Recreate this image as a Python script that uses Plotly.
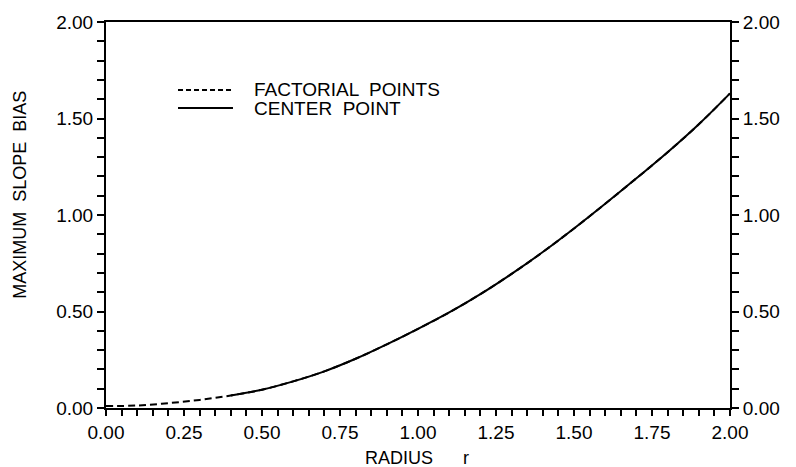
import plotly.graph_objects as go

# Data
radius = [0.0, 0.1, 0.2, 0.3, 0.4, 0.5, 0.6, 0.7, 0.8, 0.9, 1.0,
          1.1, 1.2, 1.3, 1.4, 1.5, 1.6, 1.7, 1.8, 1.9, 2.0]
factorial_bias = [0.010, 0.013, 0.025, 0.042, 0.065, 0.095, 0.138, 0.190, 0.255, 0.330, 0.410,
                  0.495, 0.590, 0.695, 0.808, 0.930, 1.058, 1.190, 1.325, 1.470, 1.630]
center_radius = radius[4:]
center_bias = factorial_bias[4:]

x_ticks = [0.0, 0.25, 0.5, 0.75, 1.0, 1.25, 1.5, 1.75, 2.0]
y_ticks = [0.0, 0.5, 1.0, 1.5, 2.0]
legend_names = ["FACTORIAL  POINTS", "CENTER  POINT"]

FONT = "Liberation Sans, Arial, sans-serif"

fig = go.Figure()
fig.add_trace(go.Scatter(x=radius, y=factorial_bias, mode="lines", name=legend_names[0],
                         line=dict(color="black", width=2, dash="7px,4px"), line_shape="spline",
                         showlegend=False))
fig.add_trace(go.Scatter(x=center_radius, y=center_bias, mode="lines", name=legend_names[1],
                         line=dict(color="black", width=2), line_shape="spline",
                         showlegend=False))
# invisible trace to activate right axis
fig.add_trace(go.Scatter(x=[0, 2], y=[0, 2], yaxis="y2", mode="lines",
                         line=dict(color="rgba(0,0,0,0)"), showlegend=False, hoverinfo="skip"))

# hand-drawn style legend
leg_x0, leg_x1, leg_tx = 0.1154, 0.2035, 0.234
leg_y = [0.824, 0.777]
fig.add_shape(type="line", xref="paper", yref="paper", x0=leg_x0, x1=leg_x1, y0=leg_y[0], y1=leg_y[0],
              line=dict(color="black", width=2, dash="5px,3px"))
fig.add_shape(type="line", xref="paper", yref="paper", x0=leg_x0, x1=leg_x1, y0=leg_y[1], y1=leg_y[1],
              line=dict(color="black", width=2))
for name, yy in zip(legend_names, leg_y):
    fig.add_annotation(text=name, xref="paper", yref="paper", x=leg_tx, y=yy,
                       xanchor="left", yanchor="middle", showarrow=False,
                       font=dict(size=19, family=FONT, color="black"))

# axis titles
fig.add_annotation(text="MAXIMUM  SLOPE  BIAS", xref="paper", yref="paper", x=-0.138, y=0.552,
                   xanchor="center", yanchor="middle", textangle=-90, showarrow=False,
                   font=dict(size=18, family=FONT, color="black"))
fig.add_annotation(text="RADIUS      r", xref="paper", yref="paper", x=0.498, y=-0.13,
                   xanchor="center", yanchor="middle", showarrow=False,
                   font=dict(size=18, family=FONT, color="black"))

axis_common = dict(range=[0, 2], showgrid=False, zeroline=False, showline=True,
                   linecolor="black", linewidth=2, automargin=False)

fig.update_layout(
    width=796, height=467,
    margin=dict(l=106, r=66, t=22, b=59),
    paper_bgcolor="white", plot_bgcolor="white",
    font=dict(family=FONT, size=19, color="black"),
    showlegend=False,
    xaxis=dict(**axis_common, tickvals=x_ticks, ticktext=[f"{v:.2f}" for v in x_ticks],
               mirror=True, ticks="outside", ticklen=6, tickwidth=2, tickcolor="black",
               minor=dict(dtick=0.05, ticks="outside", ticklen=6, tickwidth=2, tickcolor="black")),
    yaxis=dict(**axis_common, tickvals=y_ticks, ticktext=[f"{v:.2f}" for v in y_ticks],
               ticks="outside", ticklen=7, tickwidth=2, tickcolor="black",
               minor=dict(dtick=0.1, ticks="outside", ticklen=7, tickwidth=2, tickcolor="black")),
    yaxis2=dict(**axis_common, overlaying="y", side="right",
                tickvals=y_ticks, ticktext=[f"{v:.2f}" for v in y_ticks],
                ticks="outside", ticklen=7, tickwidth=2, tickcolor="black",
                minor=dict(dtick=0.1, ticks="outside", ticklen=7, tickwidth=2, tickcolor="black")),
)

fig.write_html("out.html", config={"displayModeBar": False},
               post_script="document.body.style.margin='0';document.body.style.overflow='hidden';")
